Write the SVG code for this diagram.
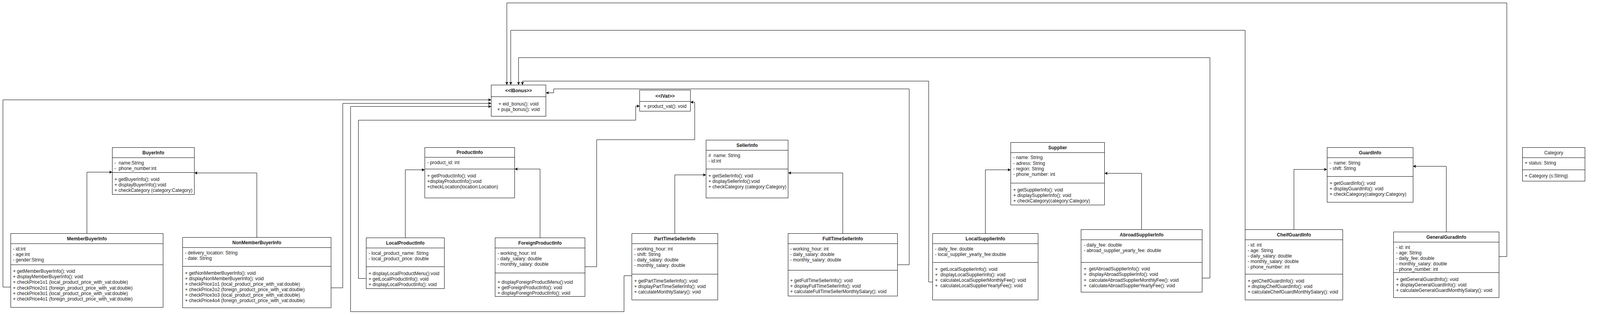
<svg xmlns="http://www.w3.org/2000/svg" width="4358" height="806" viewBox="0 0 4358 806">
<style>
.bx{fill:#fff;stroke:#000;stroke-width:1}
.ln{stroke:#000;stroke-width:1;fill:none}
text{font-family:"Liberation Sans",Arial,Helvetica,sans-serif;font-size:12px;fill:#1a1a1a;white-space:pre}
.h{font-weight:bold;text-anchor:middle}
.m{text-anchor:middle}
.cn{fill:none;stroke:#000;stroke-width:1;marker-end:url(#arr)}
</style>
<defs>
<marker id="arr" markerUnits="userSpaceOnUse" markerWidth="9" markerHeight="9" refX="8" refY="4" orient="auto">
<path d="M0,0 L8,4 L0,8 L2,4 z" fill="#000"/>
</marker>
</defs>
<rect width="4358" height="806" fill="#fff"/>

<g id="connectors">
<!-- inheritance -->
<polyline class="cn" points="222.5,597.3 222.5,440.5 287.5,440.5"/>
<polyline class="cn" points="657.5,607.3 657.5,442.5 497.5,442.5"/>
<polyline class="cn" points="1037.5,608.4 1037.5,434.5 1087.3,434.5"/>
<polyline class="cn" points="1382.5,608.4 1382.5,432.5 1317.6,432.5"/>
<polyline class="cn" points="1727.5,597.3 1727.5,447.5 1807.5,447.5"/>
<polyline class="cn" points="2157.5,597.3 2157.5,442.5 2017.7,442.5"/>
<polyline class="cn" points="2522.5,597.3 2522.5,434.5 2587.5,434.5"/>
<polyline class="cn" points="2922.5,587.3 2922.5,443.5 2827.6,443.5"/>
<polyline class="cn" points="3312.5,587.7 3312.5,433.5 3397.3,433.5"/>
<polyline class="cn" points="3702.5,593.3 3702.5,425.5 3617.1,425.5"/>
<!-- realization to IBonus -->
<polyline class="cn" points="27.5,734.5 7.5,734.5 7.5,255.5 1257.6,255.5"/>
<polyline class="cn" points="847.6,736.5 877.5,736.5 877.5,264.5 1257.6,264.5"/>
<polyline class="cn" points="1617.2,705.5 1597.5,705.5 1597.5,797.5 897.5,797.5 897.5,272.5 1257.6,272.5"/>
<polyline class="cn" points="3837.4,656.5 3857.5,656.5 3857.5,7.5 1297.5,7.5 1297.5,217.3"/>
<polyline class="cn" points="3187.5,587.7 3187.5,77.5 1307.5,77.5 1307.5,217.3"/>
<polyline class="cn" points="3077.3,711.5 3097.5,711.5 3097.5,147.5 1327.5,147.5 1327.5,217.3"/>
<polyline class="cn" points="2387.7,721.5 2377.5,721.5 2377.5,207.5 1337.5,207.5 1337.5,217.3"/>
<polyline class="cn" points="2297.7,677.5 2327.5,677.5 2327.5,227.5 1417.5,227.5 1417.5,237.5 1397.3,237.5"/>
<!-- realization to IVat -->
<polyline class="cn" points="937.6,712.5 917.5,712.5 917.5,307.5 1627.5,307.5 1627.5,271.5 1637.7,271.5"/>
<polyline class="cn" points="1497.5,682.5 1527.5,682.5 1527.5,357.5 1778.5,357.5 1778.5,261.5 1767.4,261.5"/>
</g>

<g id="BuyerInfo">
<rect class="bx" x="287.5" y="377.5" width="210" height="120"/>
<line class="ln" x1="287.5" y1="403.5" x2="497.5" y2="403.5"/>
<line class="ln" x1="287.5" y1="441.5" x2="497.5" y2="441.5"/>
<text class="h" x="392.5" y="394.7">BuyerInfo</text>
<text x="293" y="420.7">-  name:String</text>
<text x="293" y="434.7">-  phone_number:int</text>
<text x="293" y="462.7">+ getBuyerInfo(): void</text>
<text x="293" y="476.7">+ displayBuyerInfo():void</text>
<text x="293" y="490.7">+ checkCategory (category:Category)</text>
</g>

<g id="MemberBuyerInfo">
<rect class="bx" x="27.5" y="597.5" width="390" height="189"/>
<line class="ln" x1="27.5" y1="623.5" x2="417.5" y2="623.5"/>
<line class="ln" x1="27.5" y1="677.5" x2="417.5" y2="677.5"/>
<text class="h" x="222.5" y="614.7">MemberBuyerInfo</text>
<text x="33" y="640.7">- id:int</text>
<text x="33" y="654.7">- age:int</text>
<text x="33" y="668.7">- gender:String</text>
<text x="33" y="698.3">+ getMemberBuyerInfo(): void</text>
<text x="33" y="712.3">+ displayMemberBuyerInfo(): void</text>
<text x="33" y="726.3">+ checkPrice1o1 (local_product_price_with_vat:double)</text>
<text x="33" y="740.5">+ checkPrice2o1 (foreign_product_price_with_vat:double)</text>
<text x="33" y="754.6">+ checkPrice3o1 (local_product_price_with_vat:double)</text>
<text x="33" y="768.8">+ checkPrice4o1 (foreign_product_price_with_vat:double)</text>
</g>

<g id="NonMemberBuyerInfo">
<rect class="bx" x="467.5" y="607.5" width="380" height="180"/>
<line class="ln" x1="467.5" y1="633.5" x2="847.5" y2="633.5"/>
<line class="ln" x1="467.5" y1="681.5" x2="847.5" y2="681.5"/>
<text class="h" x="657.5" y="624.7">NonMemberBuyerInfo</text>
<text x="473.5" y="650.7">- delivery_location: String</text>
<text x="473.5" y="664.7">- date: String</text>
<text x="473.5" y="703">+ getNonMemberBuyerInfo(): void</text>
<text x="473.5" y="716.7">+ displayNonMemberBuyerInfo(): void</text>
<text x="473.5" y="730.7">+ checkPrice1o1 (local_product_price_with_vat:double)</text>
<text x="473.5" y="744.7">+ checkPrice2o2 (foreign_product_price_with_vat:double)</text>
<text x="473.5" y="758.7">+ checkPrice3o3 (local_product_price_with_vat:double)</text>
<text x="473.5" y="772.7">+ checkPrice4o4 (foreign_product_price_with_vat:double)</text>
</g>

<g id="IBonus">
<rect class="bx" x="1257.5" y="217.5" width="140" height="80"/>
<line class="ln" x1="1257.5" y1="247.5" x2="1397.5" y2="247.5"/>
<text class="h" x="1327.5" y="236">&lt;&lt;IBonus&gt;&gt;</text>
<text class="m" x="1327.5" y="269.6">+ eid_bonus(): void</text>
<text class="m" x="1327.5" y="284">+ puja_bonus(): void</text>
</g>

<g id="IVat">
<rect class="bx" x="1637.5" y="230.5" width="130" height="54"/>
<line class="ln" x1="1637.5" y1="259.5" x2="1767.5" y2="259.5"/>
<text class="h" x="1702.5" y="249.7">&lt;&lt;IVat&gt;&gt;</text>
<text class="m" x="1702.5" y="276.3">+ product_vat(): void</text>
</g>

<g id="ProductInfo">
<rect class="bx" x="1087.5" y="377.5" width="230" height="129"/>
<line class="ln" x1="1087.5" y1="402.5" x2="1317.5" y2="402.5"/>
<line class="ln" x1="1087.5" y1="432.5" x2="1317.5" y2="432.5"/>
<text class="h" x="1202.5" y="394">ProductInfo</text>
<text x="1093.5" y="420.4">- product_id: int</text>
<text x="1093.5" y="454.4">+ getProductInfo(): void</text>
<text x="1093.5" y="468.4">+displayProductInfo():void</text>
<text x="1093.5" y="482.4">+checkLocation(location:Location)</text>
</g>

<g id="LocalProductInfo">
<rect class="bx" x="937.5" y="608.5" width="200" height="130"/>
<line class="ln" x1="937.5" y1="634.5" x2="1137.5" y2="634.5"/>
<line class="ln" x1="937.5" y1="682.5" x2="1137.5" y2="682.5"/>
<text class="h" x="1037.5" y="625.6">LocalProductInfo</text>
<text x="943.5" y="651.6">- local_product_name: String</text>
<text x="943.5" y="665.6">- local_product_price: double</text>
<text x="943.5" y="703.6">+ displayLocalProductMenu():void</text>
<text x="943.5" y="717.6">+ getLocalProductInfo(): void</text>
<text x="943.5" y="731.6">+ displayLocalProductInfo(): void</text>
</g>

<g id="ForeignProductInfo">
<rect class="bx" x="1267.5" y="608.5" width="230" height="150"/>
<line class="ln" x1="1267.5" y1="634.5" x2="1497.5" y2="634.5"/>
<line class="ln" x1="1267.5" y1="698.5" x2="1497.5" y2="698.5"/>
<text class="h" x="1382.5" y="625.6">ForeignProductInfo</text>
<text x="1273.5" y="651.6">- working_hour: int</text>
<text x="1273.5" y="665.6">- daily_salary: double</text>
<text x="1273.5" y="679.6">- monthly_salary: double</text>
<text x="1273.5" y="725.6">+ displayForeignProductMenu():void</text>
<text x="1273.5" y="739.6">+ getForeignProductInfo(): void</text>
<text x="1273.5" y="753.6">+ displayForeignProductInfo(): void</text>
</g>

<g id="SellerInfo">
<rect class="bx" x="1807.5" y="358.5" width="210" height="148"/>
<line class="ln" x1="1807.5" y1="384.5" x2="2017.5" y2="384.5"/>
<line class="ln" x1="1807.5" y1="432.5" x2="2017.5" y2="432.5"/>
<text class="h" x="1912.5" y="375.7">SellerInfo</text>
<text x="1813.5" y="402">#  name: String</text>
<text x="1813.5" y="416">- id:int</text>
<text x="1813.5" y="454">+ getSellerInfo(): void</text>
<text x="1813.5" y="468">+ displaySellerInfo():void</text>
<text x="1813.5" y="482">+ checkCategory (category:Category)</text>
</g>

<g id="PartTimeSellerInfo">
<rect class="bx" x="1617.5" y="597.5" width="220" height="170"/>
<line class="ln" x1="1617.5" y1="623.5" x2="1837.5" y2="623.5"/>
<line class="ln" x1="1617.5" y1="701.5" x2="1837.5" y2="701.5"/>
<text class="h" x="1727.5" y="614.7">PartTimeSellerInfo</text>
<text x="1623.5" y="640.7">- working_hour: int</text>
<text x="1623.5" y="654.7">- shift: String</text>
<text x="1623.5" y="668.7">- daily_salary: double</text>
<text x="1623.5" y="682.7">- monthly_salary: double</text>
<text x="1623.5" y="722.7">+ getPartTimeSellerInfo(): void</text>
<text x="1623.5" y="736.7">+ displayPartTimeSellerInfo(): void</text>
<text x="1623.5" y="750.7">+ calculateMonthlySalary(): void</text>
</g>

<g id="FullTimeSellerInfo">
<rect class="bx" x="2017.5" y="597.5" width="280" height="160"/>
<line class="ln" x1="2017.5" y1="623.5" x2="2297.5" y2="623.5"/>
<line class="ln" x1="2017.5" y1="691.5" x2="2297.5" y2="691.5"/>
<text class="h" x="2157.5" y="615.3">FullTimeSellerInfo</text>
<text x="2022.7" y="641.3">- working_hour: int</text>
<text x="2022.7" y="655">- daily_salary: double</text>
<text x="2022.7" y="669">- monthly_salary: double</text>
<text x="2022.7" y="721.7">+ getFullTimeSellerInfo(): void</text>
<text x="2022.7" y="736">+ displayFullTimeSellerInfo(): void</text>
<text x="2022.7" y="749.7">+ calculateFullTimeSellerMonthlySalary(): void</text>
</g>

<g id="Supplier">
<rect class="bx" x="2587.5" y="364.5" width="240" height="160"/>
<line class="ln" x1="2587.5" y1="390.5" x2="2827.5" y2="390.5"/>
<line class="ln" x1="2587.5" y1="468.5" x2="2827.5" y2="468.5"/>
<text class="h" x="2707.5" y="381.7">Supplier</text>
<text x="2593.8" y="407.3">- name: String</text>
<text x="2593.8" y="421.7">- adress: String</text>
<text x="2593.8" y="435.7">- region: String</text>
<text x="2593.8" y="450">- phone_number: int</text>
<text x="2593.8" y="489.7">+ getSupplierInfo(): void</text>
<text x="2593.8" y="504">+ displaySupplierInfo(): void</text>
<text x="2593.8" y="518">+ checkCategory(category:Category)</text>
</g>

<g id="LocalSupplierInfo">
<rect class="bx" x="2387.5" y="597.5" width="270" height="170"/>
<line class="ln" x1="2387.5" y1="623.5" x2="2657.5" y2="623.5"/>
<line class="ln" x1="2387.5" y1="671.5" x2="2657.5" y2="671.5"/>
<text class="h" x="2522.5" y="614.7">LocalSupplierInfo</text>
<text x="2393.6" y="640.7">- daily_fee: double</text>
<text x="2393.6" y="654.7">- local_supplier_yearly_fee:double</text>
<text x="2393.6" y="692.7">+  getLocalSupplierInfo(): void</text>
<text x="2393.6" y="706.7">+  displayLocalSupplierInfo(): void</text>
<text x="2393.6" y="720.7">+  calculateLocalSupplierMonthlyFee(): void</text>
<text x="2393.6" y="735">+  calculateLocalSupplierYearlyFee(): void</text>
</g>

<g id="AbroadSupplierInfo">
<rect class="bx" x="2767.5" y="587.5" width="310" height="160"/>
<line class="ln" x1="2767.5" y1="613.5" x2="3077.5" y2="613.5"/>
<line class="ln" x1="2767.5" y1="671.5" x2="3077.5" y2="671.5"/>
<text class="h" x="2922.5" y="604.7">AbroadSupplierInfo</text>
<text x="2774.2" y="630.7">- daily_fee: double</text>
<text x="2774.2" y="644.7">- abroad_supplier_yearly_fee: double</text>
<text x="2774.2" y="692.3">+  getAbroadSupplierInfo(): void</text>
<text x="2774.2" y="706.3">+  displayAbroadSupplierInfo(): void</text>
<text x="2774.2" y="720.7">+  calculateAbroadSupplierMonthlyFee(): void</text>
<text x="2774.2" y="734.7">+  calculateAbroadSupplierYearlyFee(): void</text>
</g>

<g id="GuardInfo">
<rect class="bx" x="3397.5" y="377.5" width="220" height="140"/>
<line class="ln" x1="3397.5" y1="403.5" x2="3617.5" y2="403.5"/>
<line class="ln" x1="3397.5" y1="451.5" x2="3617.5" y2="451.5"/>
<text class="h" x="3507.5" y="394.7">GuardInfo</text>
<text x="3403.8" y="421">-  name: String</text>
<text x="3403.8" y="435">- shift: String</text>
<text x="3403.8" y="472.7">+ getGuardInfo(): void</text>
<text x="3403.8" y="486.7">+ displayGuardInfo(): void</text>
<text x="3403.8" y="500.7">+ checkCategory(category:Category)</text>
</g>

<g id="CheifGuardInfo">
<rect class="bx" x="3187.5" y="587.5" width="250" height="180"/>
<line class="ln" x1="3187.5" y1="613.5" x2="3437.5" y2="613.5"/>
<line class="ln" x1="3187.5" y1="701.5" x2="3437.5" y2="701.5"/>
<text class="h" x="3312.5" y="604.7">CheifGuardInfo</text>
<text x="3193.9" y="630.7">- id: int</text>
<text x="3193.9" y="644.7">- age: String</text>
<text x="3193.9" y="658.7">- daily_salary: double</text>
<text x="3193.9" y="672.7">- monthly_salary: double</text>
<text x="3193.9" y="686.7">- phone_number: int</text>
<text x="3193.9" y="722.7">+ getCheifGuardInfo(): void</text>
<text x="3193.9" y="736.7">+ displayCheifGuardInfo(): void</text>
<text x="3193.9" y="750.7">+ calculateCheifGuardMonthlySalary(): void</text>
</g>

<g id="GeneralGuradInfo">
<rect class="bx" x="3567.5" y="593.5" width="270" height="168"/>
<line class="ln" x1="3567.5" y1="619.5" x2="3837.5" y2="619.5"/>
<line class="ln" x1="3567.5" y1="697.5" x2="3837.5" y2="697.5"/>
<text class="h" x="3702.5" y="610.7">GeneralGuradInfo</text>
<text x="3573.8" y="636.7">- id: int</text>
<text x="3573.8" y="650.7">- age: String</text>
<text x="3573.8" y="664.7">- daily_fee: double</text>
<text x="3573.8" y="678.7">- monthly_salary: double</text>
<text x="3573.8" y="692.7">- phone_number: int</text>
<text x="3573.8" y="718.7">+ getGeneralGuardInfo(): void</text>
<text x="3573.8" y="732.7">+ displayGeneralGuardInfo(): void</text>
<text x="3573.8" y="746.7">+ calculateGeneralGuardMonthlySalary(): void</text>
</g>

<g id="Category">
<rect class="bx" x="3897.5" y="377.5" width="160" height="86"/>
<line class="ln" x1="3897.5" y1="403.5" x2="4057.5" y2="403.5"/>
<line class="ln" x1="3897.5" y1="434.5" x2="4057.5" y2="434.5"/>
<text class="m" x="3977.5" y="394.7">Category</text>
<text x="3903.3" y="420.7">+ status: String</text>
<text x="3903.3" y="454">+ Category (s:String)</text>
</g>

<g id="Location">
<rect class="bx" x="4197.5" y="377.5" width="160" height="86"/>
<line class="ln" x1="4197.5" y1="403.5" x2="4357.5" y2="403.5"/>
<line class="ln" x1="4197.5" y1="434.5" x2="4357.5" y2="434.5"/>
<text class="m" x="4277.5" y="394.7">Location</text>
<text x="4203.3" y="420.7"># status: String</text>
<text x="4203.3" y="454">+ Location (s:String)</text>
</g>
</svg>
